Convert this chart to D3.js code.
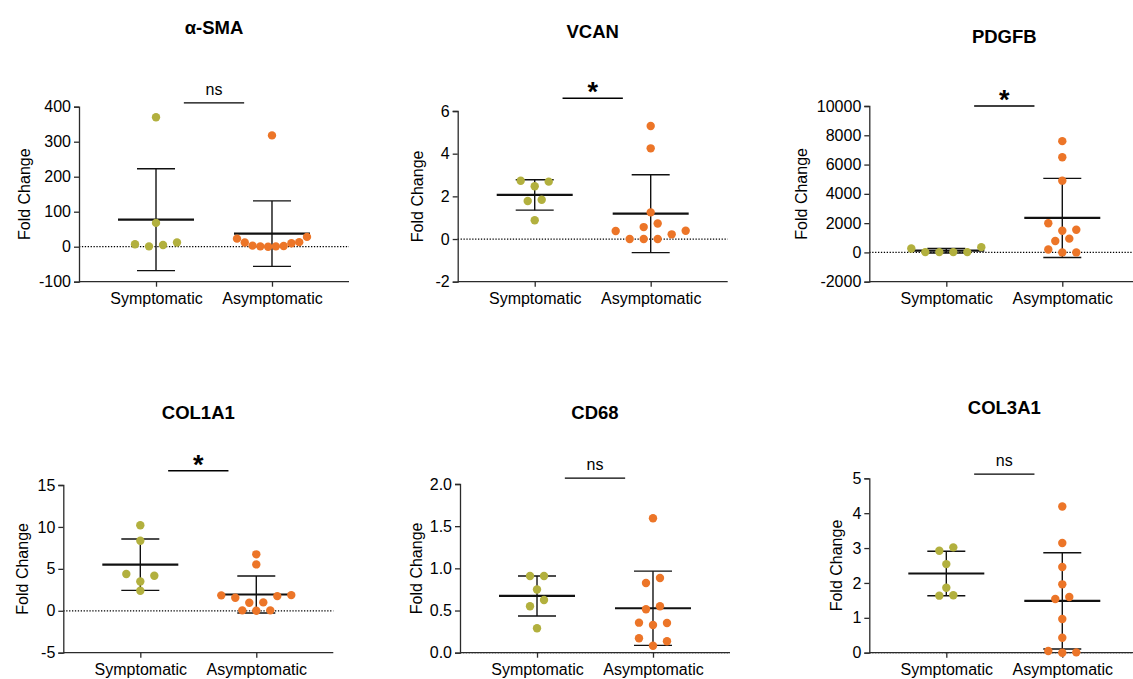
<!DOCTYPE html>
<html>
<head>
<meta charset="utf-8">
<script src="https://cdn.jsdelivr.net/npm/d3@7"></script>
<style>
  body { margin: 0; background: #fff; }
  svg { display: block; }
  text { font-family: "Liberation Sans", Arial, Helvetica, sans-serif; fill: #000; }
</style>
</head>
<body>
<svg id="chart" width="1133" height="679"></svg>
<script>
// ---- data -------------------------------------------------------------
const groups = ["Symptomatic", "Asymptomatic"];
const genes = ["α-SMA", "VCAN", "PDGFB", "COL1A1", "CD68", "COL3A1"];
const sigLabels = ["ns", "*", "*", "*", "ns", "ns"];
// height of each comparison bracket, in the panel's own units
const sigLevels = [411, 6.6, 10000, 16.7, 2.07, 5.12];

// fold change per sample
const smaSym = [370, 68, 7, 1, 5, 12];
const smaAsym = [318, 23, 12, 3, 1, 0, 1, 2, 10, 13, 28];
const vcanSym = [2.73, 2.47, 2.69, 1.78, 1.84, 0.88];
const vcanAsym = [5.3, 4.25, 1.25, 0.56, 0.73, 0.375, 0, 0, 0, 0.22, 0.39];
const pdgfbSym = [270, 20, 20, 20, 20, 360];
const pdgfbAsym = [7600, 6500, 4900, 1990, 1480, 1550, 780, 940, 200, 0, 0];
const col1a1Sym = [10.2, 8.35, 4.38, 3.5, 4.18, 2.39];
const col1a1Asym = [6.73, 5.53, 1.84, 1.55, 0.95, 1.0, 1.75, 1.87, 0.05, 0, 0.05];
const cd68Sym = [0.91, 0.91, 0.75, 0.55, 0.625, 0.29];
const cd68Asym = [1.594, 0.827, 0.886, 0.515, 0.55, 0.356, 0.329, 0.352, 0.171, 0.083, 0.135];
const col3a1Sym = [2.925, 3.02, 2.54, 1.86, 1.635, 1.645];
const col3a1Asym = [4.19, 3.146, 2.458, 1.96, 1.54, 1.597, 0.966, 0.43, 0.05, 0, 0.01];

// y-axis ticks
const smaTicks = [-100, 0, 100, 200, 300, 400];
const vcanTicks = [-2, 0, 2, 4, 6];
const pdgfbTicks = [-2000, 0, 2000, 4000, 6000, 8000, 10000];
const col1a1Ticks = [-5, 0, 5, 10, 15];
const cd68Ticks = [0, 0.5, 1.0, 1.5, 2.0];
const col3a1Ticks = [0, 1, 2, 3, 4, 5];

// ---- panel placement ----------------------------------------------------
const layout = [
  { x: 79,    top: 106.7, bottom: 281.7, titleY: 34,   labelDx: 49 },
  { x: 457.7, top: 111,   bottom: 281.7, titleY: 37.5, labelDx: 34.7 },
  { x: 869.3, top: 106,   bottom: 281.7, titleY: 42.5, labelDx: 62.8 },
  { x: 63.3,  top: 485,   bottom: 652.7, titleY: 419,  labelDx: 35 },
  { x: 460,   top: 484,   bottom: 652.7, titleY: 419,  labelDx: 38.3 },
  { x: 869.3, top: 478.3, bottom: 652.7, titleY: 414,  labelDx: 27.6 }
];

const panels = [
  { sym: smaSym, asym: smaAsym, ticks: smaTicks, fmt: d => String(d) },
  { sym: vcanSym, asym: vcanAsym, ticks: vcanTicks, fmt: d => String(d) },
  { sym: pdgfbSym, asym: pdgfbAsym, ticks: pdgfbTicks, fmt: d => String(d) },
  { sym: col1a1Sym, asym: col1a1Asym, ticks: col1a1Ticks, fmt: d => String(d) },
  { sym: cd68Sym, asym: cd68Asym, ticks: cd68Ticks, fmt: d => d.toFixed(1) },
  { sym: col3a1Sym, asym: col3a1Asym, ticks: col3a1Ticks, fmt: d => String(d) }
];

const colors = { Symptomatic: "#b2b03e", Asymptomatic: "#ec7528" };
const AXIS_LEN = 270;     // x-axis length
const R = 4.2;            // dot radius
const ROW_GAP = 7.4;      // px: dots closer than this share a row
const ROW_STEP = 14;      // px between dots in a row
const ROW_MAX = 70;       // widest a row may spread
const MEAN_HALF = 38, CAP_HALF = 19;

// Scatter-dot layout: dots are grouped into horizontal rows by value and
// spread symmetrically about the column centre.
function rowOffsets(values, y) {
  const order = values.map((v, i) => i).sort((a, b) => values[a] - values[b] || a - b);
  const rows = [];
  let cur = null;
  for (const i of order) {
    const py = y(values[i]);
    if (cur && Math.abs(py - d3.mean(cur, j => y(values[j]))) < ROW_GAP) cur.push(i);
    else { cur = [i]; rows.push(cur); }
  }
  const off = new Array(values.length).fill(0);
  rows.forEach(r => {
    r.sort((a, b) => a - b);
    const n = r.length;
    const step = n > 1 ? Math.min(ROW_STEP, ROW_MAX / (n - 1)) : 0;
    r.forEach((j, k) => { off[j] = (k - (n - 1) / 2) * step; });
  });
  return off;
}

const svg = d3.select("#chart");

panels.forEach((p, pi) => {
  const L = layout[pi];
  const g = svg.append("g");

  const x = d3.scalePoint().domain(groups).range([L.x, L.x + AXIS_LEN]).padding(0.664);
  const y = d3.scaleLinear().domain(d3.extent(p.ticks)).range([L.bottom, L.top]);

  // dotted baseline at zero
  g.append("line")
    .attr("x1", L.x).attr("x2", L.x + AXIS_LEN)
    .attr("y1", y(0)).attr("y2", y(0))
    .attr("stroke", "#000").attr("stroke-width", 1.2)
    .attr("stroke-dasharray", "1.3,1.6");

  // y axis
  const yAxis = g.append("g")
    .attr("transform", `translate(${L.x},0)`)
    .call(d3.axisLeft(y).tickValues(p.ticks).tickFormat(p.fmt).tickSize(5).tickPadding(3));
  yAxis.select(".domain").attr("stroke", "#2b2b2b").attr("stroke-width", 1.3);
  yAxis.selectAll(".tick line").attr("stroke", "#2b2b2b").attr("stroke-width", 1.3);
  yAxis.selectAll(".tick text")
    .attr("font-size", 16).attr("fill", "#000")
    .style("font-family", '"Liberation Sans", Arial, sans-serif');

  // x axis
  const xAxis = g.append("g")
    .attr("transform", `translate(0,${L.bottom})`)
    .call(d3.axisBottom(x).tickSize(5).tickSizeOuter(0).tickPadding(6));
  xAxis.select(".domain")
    .attr("d", `M${L.x},0H${L.x + AXIS_LEN}`)
    .attr("stroke", "#2b2b2b").attr("stroke-width", 1.3);
  xAxis.selectAll(".tick line").attr("stroke", "#2b2b2b").attr("stroke-width", 1.3);
  xAxis.selectAll(".tick text")
    .attr("font-size", 16).attr("fill", "#000").attr("dy", "0.72em")
    .style("font-family", '"Liberation Sans", Arial, sans-serif');

  // y label
  g.append("text")
    .attr("transform", `translate(${L.x - L.labelDx},${(L.top + L.bottom) / 2}) rotate(-90)`)
    .attr("text-anchor", "middle")
    .attr("font-size", 16)
    .text("Fold Change");

  // title
  const mid = (x(groups[0]) + x(groups[1])) / 2;
  g.append("text")
    .attr("x", mid).attr("y", L.titleY)
    .attr("text-anchor", "middle")
    .attr("font-size", 18.5).attr("font-weight", "bold")
    .text(genes[pi]);

  // significance bracket
  const sy = y(sigLevels[pi]);
  const halfStep = x.step() * 0.26;
  g.append("line")
    .attr("x1", mid - halfStep).attr("x2", mid + halfStep)
    .attr("y1", sy).attr("y2", sy)
    .attr("stroke", "#000").attr("stroke-width", 1.4);
  const star = sigLabels[pi] === "*";
  g.append("text")
    .attr("x", mid).attr("y", star ? sy + 3 : sy - 8)
    .attr("text-anchor", "middle")
    .attr("font-size", star ? 27 : 16)
    .attr("font-weight", star ? "bold" : "normal")
    .text(sigLabels[pi]);

  // columns: error bar, mean, dots
  const cols = [p.sym, p.asym];
  cols.forEach((vals, gi) => {
    const cx = x(groups[gi]);
    const m = d3.mean(vals);
    const sd = d3.deviation(vals);
    const eg = g.append("g").attr("stroke", "#111");
    eg.append("line").attr("x1", cx).attr("x2", cx)
      .attr("y1", y(m - sd)).attr("y2", y(m + sd)).attr("stroke-width", 1.4);
    [m - sd, m + sd].forEach(v => {
      eg.append("line").attr("x1", cx - CAP_HALF).attr("x2", cx + CAP_HALF)
        .attr("y1", y(v)).attr("y2", y(v)).attr("stroke-width", 1.4);
    });
    eg.append("line").attr("x1", cx - MEAN_HALF).attr("x2", cx + MEAN_HALF)
      .attr("y1", y(m)).attr("y2", y(m)).attr("stroke-width", 2.2);

    const off = rowOffsets(vals, y);
    g.append("g").selectAll("circle")
      .data(vals)
      .join("circle")
      .attr("cx", (d, i) => cx + off[i])
      .attr("cy", d => y(d))
      .attr("r", R)
      .attr("fill", colors[groups[gi]]);
  });
});
</script>
</body>
</html>
